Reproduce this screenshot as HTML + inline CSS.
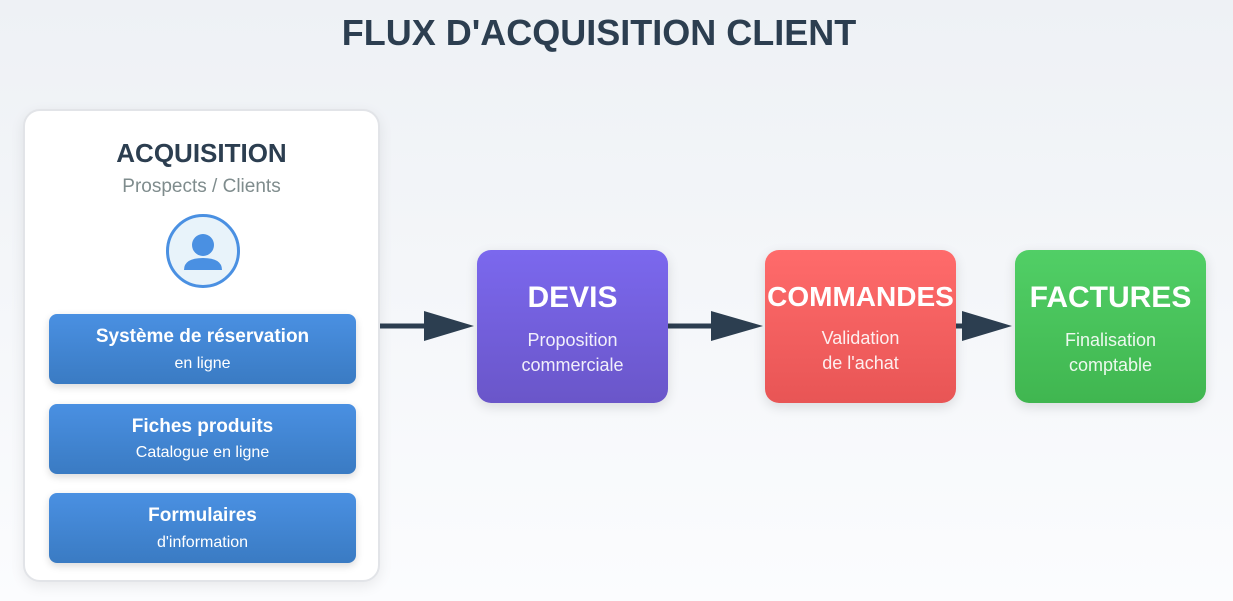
<!DOCTYPE html>
<html><head><meta charset="utf-8"><style>
*{margin:0;padding:0;box-sizing:border-box}
body{width:1233px;height:601px;overflow:hidden;background:linear-gradient(180deg,#eef1f5 0%,#fbfcfe 100%);font-family:"Liberation Sans",Arial,sans-serif;position:relative}
.t{position:absolute;left:0;width:1198px;top:12px;text-align:center;font-size:36px;font-weight:bold;color:#2c3e50}
.card{position:absolute;left:23px;top:109px;width:357px;height:473px;background:#fff;border:2px solid #e2e4e8;border-radius:17px;box-shadow:0 4px 14px rgba(0,0,0,.08)}
.ah{position:absolute;left:0;width:100%;top:27px;text-align:center;font-size:26px;font-weight:bold;color:#2c3e50}
.as{position:absolute;left:0;width:100%;top:65px;text-align:center;font-size:19px;color:#7f8c8d}
.circ{position:absolute;left:141px;top:103px;width:74px;height:74px;border-radius:50%;background:#e8f3fa;border:3px solid #4a90e2}
.btn{position:absolute;left:24px;width:307px;height:70px;border-radius:8px;background:linear-gradient(180deg,#4a90e2,#3a7bc3);box-shadow:0 3px 8px rgba(0,0,0,.15);color:#fff;text-align:center}
.btn b{display:block;font-size:19px;margin-top:12px}
.btn span{display:block;font-size:16px;margin-top:7px}
.box{position:absolute;top:250px;width:191px;height:153px;border-radius:14px;color:#fff;text-align:center;box-shadow:0 4px 12px rgba(0,0,0,.12)}
.box b{display:block;font-size:30px;margin-top:31px;white-space:nowrap}
.box span{display:block;font-size:18px;line-height:25px;margin-top:13px;opacity:.9}
</style></head><body>
<div class="t">FLUX D'ACQUISITION CLIENT</div>
<div class="card">
<div class="ah">ACQUISITION</div>
<div class="as">Prospects / Clients</div>
<div class="circ"><svg width="68" height="68" viewBox="0 0 68 68"><circle cx="34" cy="28" r="11" fill="#4a90e2"/><path d="M15 53 Q15 41 34 41 Q53 41 53 53 Z" fill="#4a90e2"/></svg></div>
<div class="btn" style="top:203px"><b>Système de réservation</b><span>en ligne</span></div>
<div class="btn" style="top:293px"><b>Fiches produits</b><span style="margin-top:6px">Catalogue en ligne</span></div>
<div class="btn" style="top:382px"><b>Formulaires</b><span>d'information</span></div>
</div>
<svg style="position:absolute;left:0;top:0" width="1233" height="601">
<g fill="#2c3e50" stroke="#2c3e50">
<line x1="380" y1="326" x2="430" y2="326" stroke-width="5"/><polygon points="424,311 474,326 424,341" stroke="none"/>
<line x1="668" y1="326" x2="715" y2="326" stroke-width="5"/><polygon points="711,311 763,326 711,341" stroke="none"/>
<line x1="956" y1="326" x2="968" y2="326" stroke-width="5"/><polygon points="962,311 1012,326 962,341" stroke="none"/>
</g></svg>
<div class="box" style="left:477px;background:linear-gradient(180deg,#7b68ee,#6a56c9)"><b>DEVIS</b><span>Proposition<br>commerciale</span></div>
<div class="box" style="left:765px;background:linear-gradient(180deg,#ff6b6b,#e85555)"><b style="font-size:28px">COMMANDES</b><span>Validation<br>de l'achat</span></div>
<div class="box" style="left:1015px;background:linear-gradient(180deg,#51cf66,#40b650)"><b>FACTURES</b><span>Finalisation<br>comptable</span></div>
</body></html>
